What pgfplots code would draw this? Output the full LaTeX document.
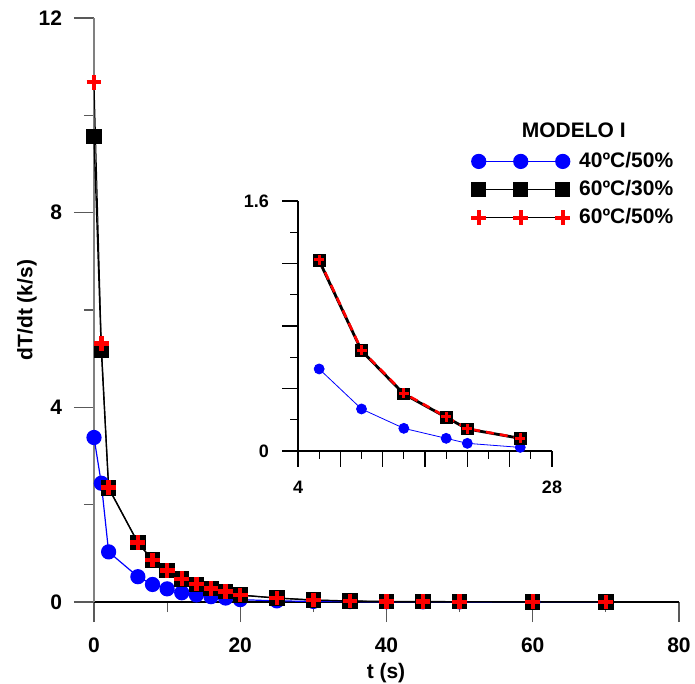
\documentclass[border=0pt]{standalone}
\usepackage{fontspec}
\setmainfont{Liberation Sans}
\usepackage{pgfplots}
\pgfplotsset{compat=1.18}
\definecolor{mblue}{RGB}{0,0,255}
\definecolor{mred}{RGB}{255,0,0}
\begin{document}
\begin{tikzpicture}
% main plot
\begin{axis}[
  at={(0pt,0pt)}, anchor=south west,
  scale only axis, width=292.5pt, height=292pt,
  xmin=0, xmax=80, ymin=0, ymax=12,
  axis x line=bottom, axis y line=left,
  x axis line style={-, black, line width=0.6pt},
  y axis line style={-, gray, line width=0.8pt},
  tick align=outside,
  major tick length=10pt, minor tick length=5pt,
  xtick={0,20,...,80}, minor xtick={10,30,50,70},
  ytick={0,4,8,12}, minor ytick={2,6,10},
  tick style={gray!70!black, line width=0.6pt},
  tick label style={font=\bfseries\fontsize{10.5}{12}\selectfont},
  xticklabel style={yshift=-4.5pt},
  yticklabel style={xshift=-2.5pt},
  /pgf/number format/assume math mode=true,
  clip=false,
  legend style={at={(axis cs:51.55,9.31)}, anchor=north west, draw=none, fill=none,
    inner sep=0pt, row sep=2pt, column sep=3pt, font=\bfseries\fontsize{10.5}{12}\selectfont,
    nodes={inner sep=1.5pt}},
  legend image code/.code={
    \draw[mark repeat=1, mark phase=1, #1] plot coordinates {(0pt,0pt) (21pt,0pt) (42pt,0pt)};},
]
\addplot[mblue, line width=0.6pt, mark=*, mark size=3.5pt] coordinates {
  (0,3.38) (1,2.44) (2,1.03) (6,0.52) (8,0.36) (10,0.27) (12,0.19) (14,0.145)
  (16,0.11) (18,0.081) (20,0.049) (25,0.023) (30,0.012) (35,0.008) (40,0.005)
  (45,0.003) (50,0.002) (60,0.001) (70,0.0)};
\addplot[black, line width=0.7pt, mark=square*, mark size=3.5pt] coordinates {
  (0,9.57) (1,5.18) (2,2.34) (6,1.218) (8,0.86) (10,0.642) (12,0.47) (14,0.365)
  (16,0.28) (18,0.216) (20,0.141) (25,0.081) (30,0.04) (35,0.02) (40,0.01)
  (45,0.008) (50,0.005) (60,0.003) (70,0.001)};
\addplot[black, line width=0.5pt, mark=+, mark size=3.7pt,
  mark options={mred, line width=2.2pt}] coordinates {
  (0,10.68) (1,5.31) (2,2.35) (6,1.225) (8,0.865) (10,0.645) (12,0.475) (14,0.37)
  (16,0.28) (18,0.218) (20,0.143) (25,0.082) (30,0.04) (35,0.02) (40,0.01)
  (45,0.008) (50,0.005) (60,0.003) (70,0.001)};
\legend{40ºC/50\%, 60ºC/30\%, 60ºC/50\%}
\node[font=\bfseries\fontsize{10.5}{12}\selectfont] at (axis cs:65.6,9.70) {MODELO I};
\end{axis}
% inset
\begin{axis}[
  at={(102pt,75.5pt)}, anchor=south west,
  scale only axis, width=127pt, height=125pt,
  xmin=4, xmax=28, ymin=0, ymax=1.6,
  axis x line=bottom, axis y line=left,
  axis line style={-, black, line width=0.6pt},
  tick align=outside,
  major tick length=8pt, minor tick length=4pt,
  xtick={4,8,...,28}, xticklabels={4,,,,,,28}, minor xtick={6,10,...,26},
  ytick={0,0.4,0.8,1.2,1.6}, yticklabels={0,,,,1.6}, minor ytick={0.2,0.6,1.0,1.4},
  tick style={black, line width=0.6pt},
  tick label style={font=\bfseries\fontsize{9}{11}\selectfont},
  xticklabel style={yshift=-3.5pt},
  yticklabel style={xshift=-3pt},
  /pgf/number format/assume math mode=true,
  clip=false,
]
\addplot[mblue, line width=0.4pt, mark=*, mark size=2.5pt] coordinates {
  (6,0.525) (10,0.269) (14,0.145) (18,0.081) (20,0.049) (25,0.023)};
\addplot[black, line width=1.4pt, mark=square*, mark size=2.5pt] coordinates {
  (6,1.218) (10,0.642) (14,0.365) (18,0.216) (20,0.141) (25,0.081)};
\addplot[mred, line width=1.3pt, dash pattern=on 4pt off 3pt, mark=+, mark size=2.5pt,
  mark options={solid, line width=1.5pt}] coordinates {
  (6,1.225) (10,0.645) (14,0.37) (18,0.218) (20,0.143) (25,0.082)};
\end{axis}
% axis labels
\node[font=\bfseries\fontsize{10.5}{12}\selectfont] at (146pt,-35.5pt) {t (s)};
\node[rotate=90, font=\bfseries\fontsize{10.5}{12}\selectfont] at (-33.5pt,146pt) {dT/dt (k/s)};
\pgfresetboundingbox
\path[use as bounding box] (-47pt,-41pt) rectangle (300.5pt,301pt);
\end{tikzpicture}
\end{document}
